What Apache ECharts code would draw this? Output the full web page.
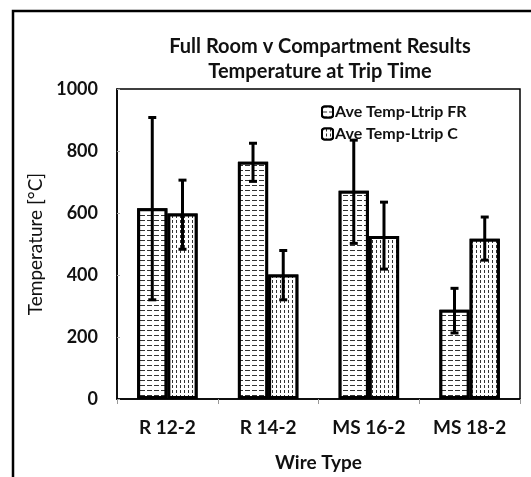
<!DOCTYPE html>
<html><head><meta charset="utf-8">
<script src="https://cdn.jsdelivr.net/npm/echarts@6/dist/echarts.min.js"></script>
<style>html,body{margin:0;padding:0;background:#fff}#c{width:531px;height:477px}</style>
</head><body><div id="c"></div>
<script>
const categories = ['R 12-2', 'R 14-2', 'MS 16-2', 'MS 18-2'];
const seriesNames = ['Ave Temp-Ltrip FR', 'Ave Temp-Ltrip C'];
const frValues = [615, 765, 672, 288];
const cValues = [598, 402, 526, 517];
const frErrLow = [320, 702, 502, 213];
const frErrHigh = [908, 825, 835, 357];
const cErrLow = [483, 320, 419, 448];
const cErrHigh = [706, 479, 635, 587];
const yTicks = [0, 200, 400, 600, 800, 1000];

const FONT = 'Lato';
const chart = echarts.init(document.getElementById('c'), null, {renderer: 'canvas'});

function errSeries(low, high, sign) {
  return {
    type: 'custom',
    silent: true,
    z: 10,
    data: categories.map((c, i) => [i, low[i], high[i]]),
    renderItem: function (params, api) {
      const band = api.size([1, 0])[0];
      const cx = api.coord([api.value(0), 0])[0] + sign * band * 0.15;
      const top = api.coord([api.value(0), api.value(2)])[1];
      const bot = api.coord([api.value(0), api.value(1)])[1];
      const w = 4;
      const st = {stroke: '#000', lineWidth: 3};
      return {type: 'group', children: [
        {type: 'line', shape: {x1: cx, y1: top, x2: cx, y2: bot}, style: st},
        {type: 'line', shape: {x1: cx - w, y1: top, x2: cx + w, y2: top}, style: st},
        {type: 'line', shape: {x1: cx - w, y1: bot, x2: cx + w, y2: bot}, style: st}
      ]};
    }
  };
}

const option = {
  animation: false,
  backgroundColor: '#fff',
  title: {
    text: 'Full Room v Compartment Results\nTemperature at Trip Time',
    left: 315, top: 29, textAlign: 'center',
    textStyle: {fontFamily: FONT, fontWeight: 'bold', fontSize: 20, lineHeight: 25, color: '#111'}
  },
  legend: {
    orient: 'vertical', left: 316, top: 99, itemGap: 6,
    itemWidth: 11, itemHeight: 11,
    textStyle: {fontFamily: FONT, fontWeight: 'bold', fontSize: 16, color: '#111', padding: [0,0,0,-3]},
    data: seriesNames
  },
  grid: {left: 117, top: 89, right: 11, bottom: 73, show: true, borderColor: '#000', borderWidth: 1.5},
  xAxis: {
    type: 'category', data: categories,
    name: 'Wire Type', nameLocation: 'middle', nameGap: 54,
    nameTextStyle: {fontFamily: FONT, fontWeight: 'bold', fontSize: 19, color: '#111'},
    axisLine: {lineStyle: {color: '#000', width: 1.5}},
    axisTick: {show: true, length: 5, lineStyle: {color: '#999'}},
    axisLabel: {fontFamily: FONT, fontWeight: 'bold', fontSize: 19, color: '#111', margin: 19}
  },
  yAxis: {
    type: 'value', min: yTicks[0], max: yTicks[yTicks.length - 1], interval: 200,
    name: 'Temperature [°C]', nameLocation: 'middle', nameGap: 60,
    nameTextStyle: {fontFamily: FONT, fontSize: 19, color: '#111'},
    axisLine: {show: true, lineStyle: {color: '#000', width: 1.5}},
    axisTick: {show: true, length: 3, inside: true, lineStyle: {color: '#aaa'}},
    splitLine: {show: false},
    axisLabel: {fontFamily: FONT, fontWeight: 'bold', fontSize: 18, color: '#111', margin: 19,
      formatter: v => String(v)}
  },
  series: [
    {
      name: seriesNames[0], type: 'bar', data: frValues, barWidth: '30%', barGap: '0%',
      itemStyle: {color: '#fff', borderColor: '#000', borderWidth: 3,
        decal: {symbol: 'rect', symbolSize: 1, color: '#333', backgroundColor: '#fff', dashArrayX: [5, 2], dashArrayY: [1, 4], rotation: 0}}
    },
    {
      name: seriesNames[1], type: 'bar', data: cValues, barWidth: '30%', barGap: '0%',
      itemStyle: {color: '#fff', borderColor: '#000', borderWidth: 3,
        decal: {symbol: 'rect', symbolSize: 1, color: '#333', backgroundColor: '#fff', dashArrayX: [1, 3], dashArrayY: [3, 2], rotation: 0}}
    },
    errSeries(frErrLow, frErrHigh, -1),
    errSeries(cErrLow, cErrHigh, 1)
  ],
  graphic: [
    {type: 'polyline', shape: {points: [[13, 477], [13, 11], [531, 11]]}, style: {stroke: '#000', lineWidth: 2.5, fill: null}}
  ]
};
chart.setOption(option);
</script></body></html>
